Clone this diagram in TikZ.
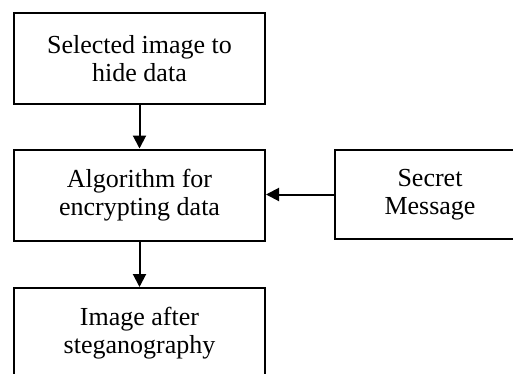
\documentclass[tikz,border=0pt]{standalone}
\usepackage{fontspec}
\setmainfont{Liberation Serif}
\usetikzlibrary{arrows.meta}
\usetikzlibrary{positioning}
\tikzset{block/.style = {draw, line width = 1pt, align = center,
                         minimum width = 125.5pt, minimum height = 45.5pt,
                         font = \fontsize{13}{14}\selectfont}}
\tikzset{msgbox/.style = {block, minimum width = 95pt, minimum height = 44.5pt}}
\tikzset{flow/.style = {line width = 1pt, -{Triangle[width = 6.5pt, length = 6.5pt]}}}

\begin{document}
\begin{tikzpicture}[x = 0.5pt, y = -0.5pt]
    \useasboundingbox (0, 0) rectangle (513, 374);
    \clip (0, 0) rectangle (513, 374);

    \node [block] (image) at (139.5, 58.5) {Selected image to\\hide data};
    \node [block] (algo) at (139.5, 195) {Algorithm for\\encrypting data};
    \node [block] (stego) at (139.5, 333.5) {Image after\\steganography};
    \node [msgbox] (secret) at (430, 194.5) {Secret\\Message};

    \draw [flow] (image) -- (algo);
    \draw [flow] (algo) -- (stego);
    \draw [flow] (secret.west) -- (secret.west -| algo.east);
  \end{tikzpicture}
\end{document}
